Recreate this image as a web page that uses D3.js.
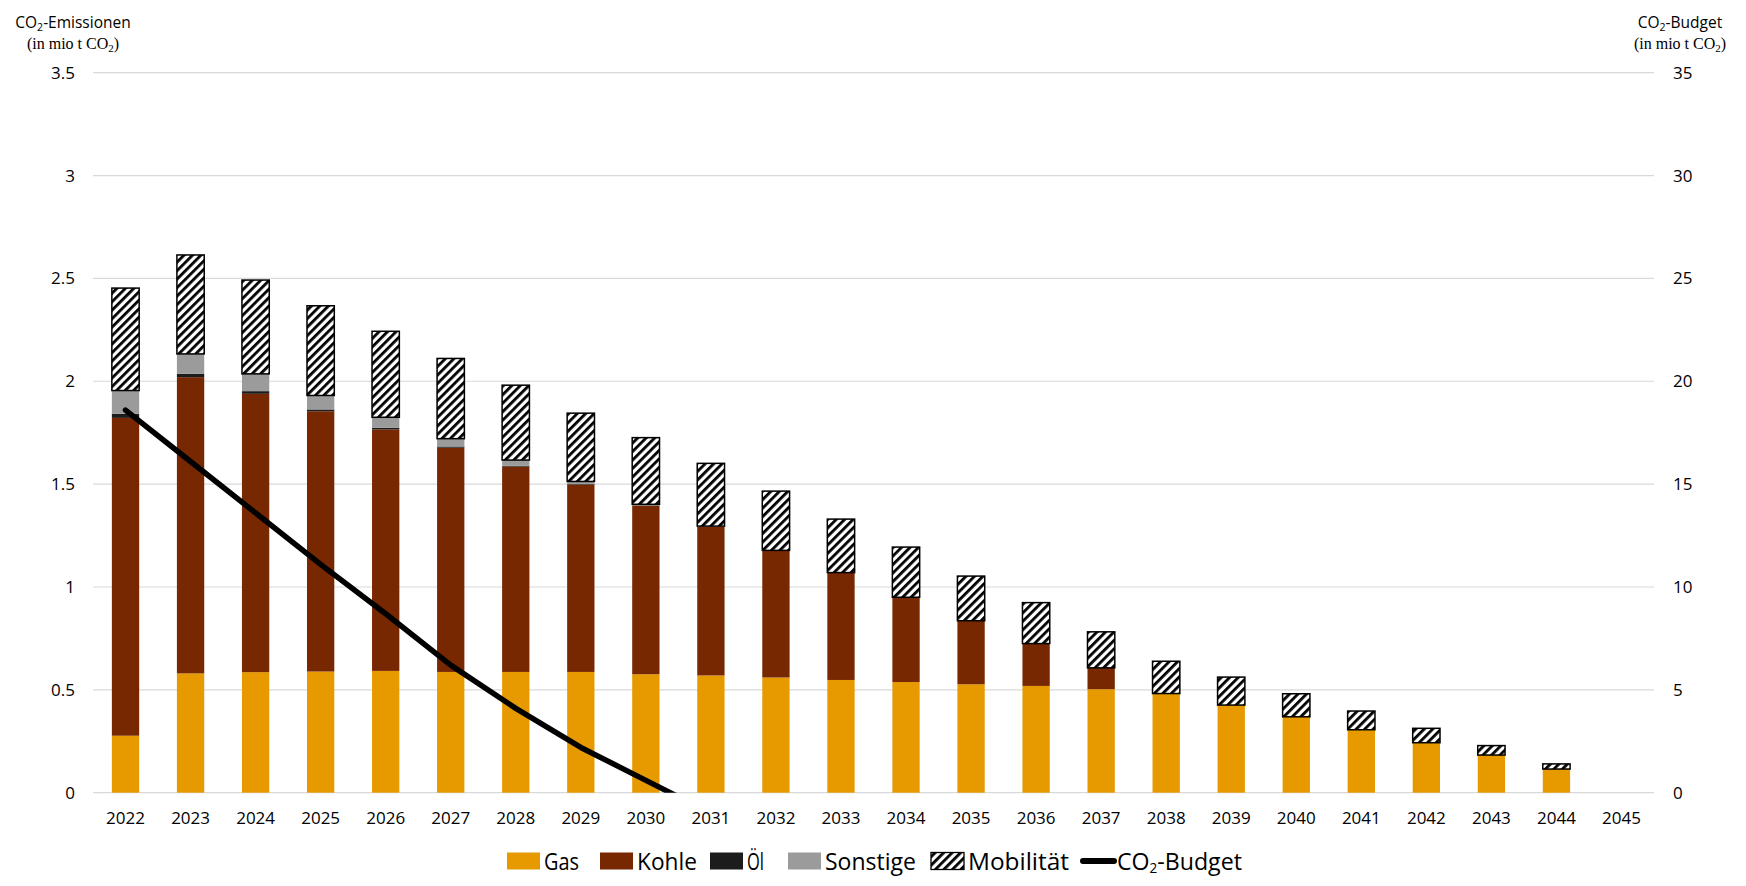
<!DOCTYPE html>
<html>
<head>
<meta charset="utf-8">
<script src="https://cdn.jsdelivr.net/npm/d3@7"></script>
<style>
  body { margin: 0; background: #fff; }
  svg { display: block; }
</style>
</head>
<body>
<div id="chart"></div>
<script>
// years on the x axis
var years = ["2022","2023","2024","2025","2026","2027","2028","2029","2030","2031","2032","2033",
             "2034","2035","2036","2037","2038","2039","2040","2041","2042","2043","2044","2045"];

// emissions per source (mio t CO2), stacked
var gas       = [0.277,0.58,0.586,0.589,0.592,0.587,0.587,0.587,0.576,0.57,0.56,0.548,
                 0.538,0.527,0.519,0.503,0.482,0.426,0.369,0.306,0.243,0.183,0.115,0];
var kohle     = [1.545,1.44,1.353,1.265,1.174,1.09,0.998,0.911,0.819,0.722,0.618,0.522,
                 0.412,0.309,0.206,0.104,0,0,0,0,0,0,0,0];
var oel       = [0.02,0.016,0.013,0.009,0.008,0.006,0.004,0.003,0.002,0.001,0,0,
                 0,0,0,0,0,0,0,0,0,0,0,0];
var sonstige  = [0.113,0.097,0.084,0.068,0.051,0.038,0.028,0.012,0.005,0.003,0,0,
                 0,0,0,0,0,0,0,0,0,0,0,0];
var mobilitaet= [0.498,0.481,0.456,0.436,0.418,0.39,0.364,0.332,0.324,0.305,0.288,0.26,
                 0.244,0.217,0.199,0.175,0.157,0.136,0.112,0.091,0.07,0.046,0.025,0];

// remaining CO2 budget (right axis)
var budgetYears = ["2022","2023","2024","2025","2026","2027","2028","2029","2030","2031"];
var budget      = [18.6,16.1,13.6,11.1,8.7,6.2,4.1,2.2,0.6,-1.0];

var leftTicks  = [0,0.5,1,1.5,2,2.5,3,3.5];
var rightTicks = [0,5,10,15,20,25,30,35];

var W = 1746, H = 886;
var margin = { top: 72.7, right: 92, bottom: 93.3, left: 93 };
var innerW = W - margin.left - margin.right;
var innerH = H - margin.top - margin.bottom;

var svg = d3.select("#chart").append("svg")
    .attr("width", W).attr("height", H)
    .style("font-family", "'Open Sans', sans-serif");

// hatch for Mobilität
var defs = svg.append("defs");
var pat = defs.append("pattern")
    .attr("id", "hatch")
    .attr("patternUnits", "userSpaceOnUse")
    .attr("width", 6).attr("height", 6)
    .attr("patternTransform", "rotate(45)");
pat.append("rect").attr("width", 6).attr("height", 6).attr("fill", "#fff");
pat.append("rect").attr("width", 2.8).attr("height", 6).attr("fill", "#000");

defs.append("clipPath").attr("id", "plotclip")
  .append("rect").attr("x", 0).attr("y", 0).attr("width", innerW).attr("height", innerH);

var g = svg.append("g").attr("transform", "translate(" + margin.left + "," + margin.top + ")");

var x = d3.scaleBand().domain(years).range([0, innerW]).paddingInner(0.58).paddingOuter(0.29);
var y = d3.scaleLinear().domain([0, 3.5]).range([innerH, 0]);
var y2 = d3.scaleLinear().domain([0, 35]).range([innerH, 0]);

// gridlines
g.append("g").selectAll("line").data(leftTicks).enter().append("line")
  .attr("x1", 0).attr("x2", innerW)
  .attr("y1", function(d){ return y(d); }).attr("y2", function(d){ return y(d); })
  .attr("stroke", "#d9d9d9").attr("stroke-width", 1.2);

// axes
var ax = g.append("g").attr("transform", "translate(0," + innerH + ")")
  .call(d3.axisBottom(x).tickSize(0).tickPadding(19));
var ayl = g.append("g").call(d3.axisLeft(y).tickValues(leftTicks).tickFormat(function(d){ return String(d); }).tickSize(0).tickPadding(18));
var ayr = g.append("g").attr("transform", "translate(" + innerW + ",0)")
  .call(d3.axisRight(y2).tickValues(rightTicks).tickFormat(function(d){ return String(d); }).tickSize(0).tickPadding(19));
[ax, ayl, ayr].forEach(function(a){
  a.select(".domain").remove();
  a.selectAll("text").attr("font-size", 17).attr("fill", "#000")
    .style("font-family", "'Open Sans', sans-serif");
});

// stacked bars
var rows = years.map(function(yr, i){
  return { year: yr, gas: gas[i], kohle: kohle[i], oel: oel[i], sonstige: sonstige[i], mob: mobilitaet[i] };
});
var keys = ["gas", "kohle", "oel", "sonstige", "mob"];
var colors = { gas: "#e69a00", kohle: "#772800", oel: "#1c1c1c", sonstige: "#9b9b9b", mob: "url(#hatch)" };
var stacked = d3.stack().keys(keys)(rows);

stacked.forEach(function(layer){
  g.append("g").selectAll("rect").data(layer.filter(function(d){ return d[1] - d[0] > 0; })).enter().append("rect")
    .attr("x", function(d){ return x(d.data.year); })
    .attr("width", x.bandwidth())
    .attr("y", function(d){ return y(d[1]); })
    .attr("height", function(d){ return y(d[0]) - y(d[1]); })
    .attr("fill", colors[layer.key])
    .attr("stroke", layer.key == "mob" ? "#000" : "none")
    .attr("stroke-width", layer.key == "mob" ? 1.5 : 0);
});

// budget line
var line = d3.line()
  .x(function(d, i){ return x(budgetYears[i]) + x.bandwidth() / 2; })
  .y(function(d){ return y2(d); });
g.append("path").datum(budget)
  .attr("clip-path", "url(#plotclip)")
  .attr("d", line)
  .attr("fill", "none").attr("stroke", "#000")
  .attr("stroke-width", 5.5).attr("stroke-linecap", "round").attr("stroke-linejoin", "round");

// axis titles
function co2Title(cx, yy, label) {
  var t = svg.append("text").attr("x", cx).attr("y", yy).attr("text-anchor", "middle")
    .attr("font-size", 15.5).attr("fill", "#000");
  t.append("tspan").text("CO");
  t.append("tspan").attr("font-size", 10.5).attr("dy", 3).text("2");
  t.append("tspan").attr("dy", -3).text(label);
  var s = svg.append("text").attr("x", cx).attr("y", yy + 21).attr("text-anchor", "middle")
    .attr("font-size", 16).attr("fill", "#000")
    .style("font-family", "'Liberation Serif', serif");
  s.append("tspan").text("(in mio t CO");
  s.append("tspan").attr("font-size", 11).attr("dy", 3).text("2");
  s.append("tspan").attr("dy", -3).text(")");
}
co2Title(73, 28, "-Emissionen");
co2Title(1680, 28, "-Budget");

// legend (sx = swatch start, tw = text width)
var legend = svg.append("g").attr("transform", "translate(0,861)");
var legItems = [
  { name: "Gas", fill: colors.gas, sx: 507, tw: 35 },
  { name: "Kohle", fill: colors.kohle, sx: 600, tw: 60 },
  { name: "Öl", fill: colors.oel, sx: 710, tw: 17 },
  { name: "Sonstige", fill: colors.sonstige, sx: 788, tw: 91 },
  { name: "Mobilität", fill: colors.mob, sx: 931, tw: 101 },
  { name: "budget", sx: 1080, tw: 125 }
];
legItems.forEach(function(it){
  if (it.name == "budget") {
    legend.append("line").attr("x1", it.sx + 3).attr("x2", it.sx + 34).attr("y1", 0).attr("y2", 0)
      .attr("stroke", "#000").attr("stroke-width", 6).attr("stroke-linecap", "round");
  } else {
    legend.append("rect").attr("x", it.sx).attr("y", -8.5).attr("width", 33).attr("height", 17)
      .attr("fill", it.fill)
      .attr("stroke", it.name == "Mobilität" ? "#000" : "none").attr("stroke-width", 1.3);
  }
  var tx = it.sx + 37;
  var tg = legend.append("g");
  var t = tg.append("text").attr("font-size", 24).attr("fill", "#000").attr("y", 8.5);
  if (it.name == "budget") {
    t.append("tspan").text("CO");
    t.append("tspan").attr("font-size", 14).attr("dy", 3).text("2");
    t.append("tspan").attr("dy", -3).text("-Budget");
  } else {
    t.text(it.name);
  }
  var bw = t.node().getBBox().width;
  tg.attr("transform", "translate(" + tx + ",0) scale(" + (it.tw / bw) + ",1)");
});
</script>
</body>
</html>
